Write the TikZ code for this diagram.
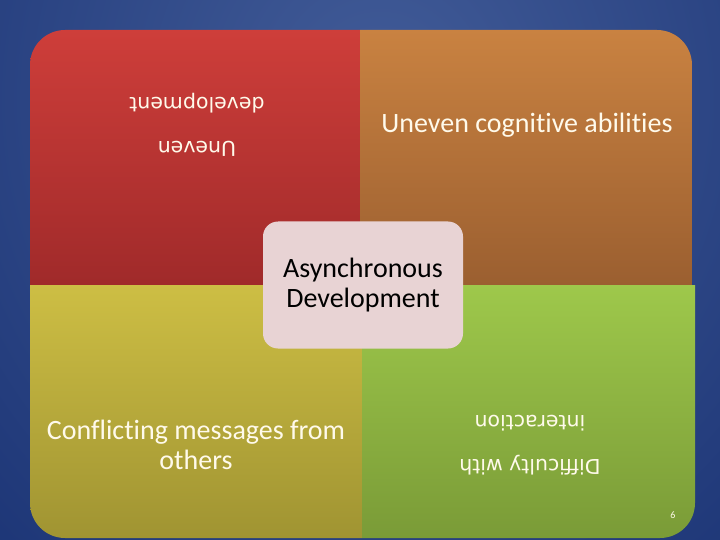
\documentclass[tikz,border=0pt]{standalone}
\usepackage{fontspec}
\setmainfont{Carlito}[Ligatures=NoCommon]
\newfontfamily\flipfont{DejaVu Sans}
\usepackage{tikz}
\usetikzlibrary{positioning,backgrounds,calc}
\definecolor{bgin}{RGB}{66,92,152}
\definecolor{bgout}{RGB}{6,30,98}
\definecolor{redtop}{RGB}{206,62,58}
\definecolor{redbot}{RGB}{160,42,42}
\definecolor{orangetop}{RGB}{201,130,65}
\definecolor{orangebot}{RGB}{155,95,48}
\definecolor{yellowtop}{RGB}{205,190,68}
\definecolor{yellowbot}{RGB}{160,148,50}
\definecolor{greentop}{RGB}{158,200,75}
\definecolor{greenbot}{RGB}{122,155,55}
\definecolor{pinkbox}{RGB}{232,211,212}
\definecolor{cream}{RGB}{255,250,235}

\begin{document}
\begin{tikzpicture}[x=1pt, y=-1pt, semithick,
 quadtext/.style={text=cream, align=center, font=\fontsize{28}{30}\selectfont},
 fliptext/.style={text=cream, align=center, rotate=180, font=\flipfont\fontsize{20.5}{44}\selectfont},
 centrebox/.style={fill=pinkbox, rounded corners=15, minimum width=200, minimum height=127,
   text=black, align=center, font=\fontsize{28}{30}\selectfont}]
 \useasboundingbox (0,0) rectangle (720,540);
 % backdrop
 \begin{scope}
  \clip (0,0) rectangle (720,540);
  \shade[inner color=bgin, outer color=bgout] (-540,-900) rectangle (1300,1100);
 \end{scope}
 % top row
 \begin{scope}
  \clip[rounded corners=35] (30,30) rectangle (692,330);
  \shade[top color=redtop, bottom color=redbot] (30,30) rectangle (360,285);
  \shade[top color=orangetop, bottom color=orangebot] (360,30) rectangle (692,285);
 \end{scope}
 % bottom row
 \begin{scope}
  \clip[rounded corners=35] (30,240) rectangle (695,538);
  \shade[top color=yellowtop, bottom color=yellowbot] (30,285) rectangle (362,538);
  \shade[top color=greentop, bottom color=greenbot] (362,285) rectangle (695,538);
 \end{scope}
 \node[fliptext] (uneven) at (197,125) {Uneven\\development};
 \node[quadtext] (cognitive) at (527,125) {Uneven cognitive abilities};
 \node[quadtext] (conflict) at (196,445) {Conflicting messages from\\others};
 \node[fliptext] (difficulty) at (530,445) {Difficulty with\\interaction};
 \node[centrebox] (core) at (363,285) {Asynchronous\\Development};
 \node[text=cream, font=\fontsize{10}{12}\selectfont] (page) at (673,515) {6};
\end{tikzpicture}
\end{document}
